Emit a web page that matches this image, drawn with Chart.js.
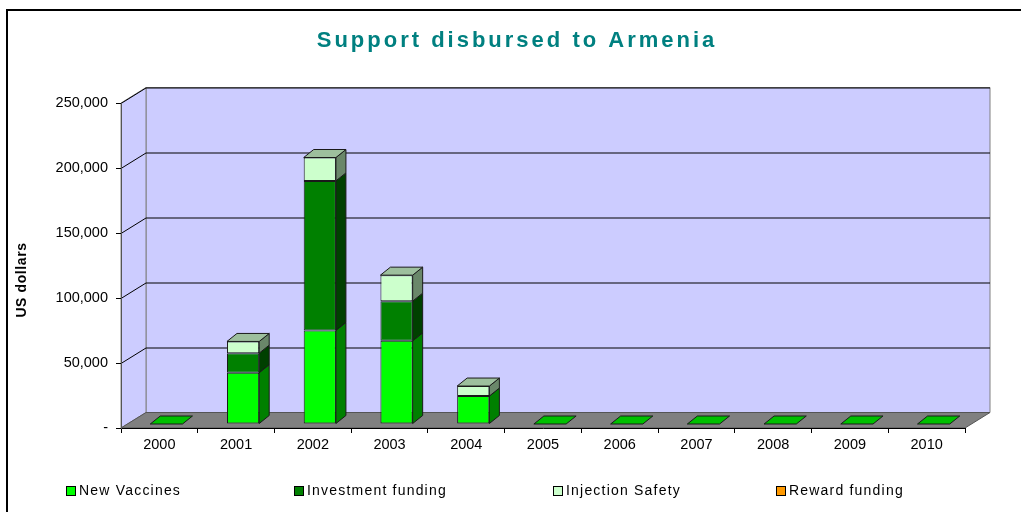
<!DOCTYPE html>
<html>
<head>
<meta charset="utf-8">
<script src="https://cdn.jsdelivr.net/npm/chart.js@4.4.0/dist/chart.umd.min.js"></script>
<style>
  html, body { margin: 0; padding: 0; background: #fff; }
  #wrap { width: 1021px; height: 512px; }
</style>
</head>
<body>
<div id="wrap"><canvas id="chart" width="1021" height="512"></canvas></div>
<script>
const years = ['2000', '2001', '2002', '2003', '2004', '2005', '2006', '2007', '2008', '2009', '2010'];
const newVaccines = [0, 39500, 72000, 64000, 21500, 0, 0, 0, 0, 0, 0];
const investmentFunding = [0, 15000, 115000, 30500, 0, 0, 0, 0, 0, 0, 0];
const injectionSafety = [0, 9000, 18000, 20000, 7700, 0, 0, 0, 0, 0, 0];
const rewardFunding = [0, 0, 0, 0, 0, 0, 0, 0, 0, 0, 0];

const FONT = 'Arial, "Liberation Sans", sans-serif';

// front / side / top colours for each series
const faces = [
  { front: '#00ff00', side: '#008000', top: '#00c000' },
  { front: '#008000', side: '#004000', top: '#006000' },
  { front: '#ccffcc', side: '#6a876a', top: '#9dbf9d' },
  { front: '#ff9900', side: '#a06000', top: '#cc7a00' },
];

// wall depth and bar depth
const WALL = { dx: 25, dy: -15.5 };
const BAR = { dx: 10, dy: -8, shiftX: 7, shiftY: -4 };

const frame3d = {
  id: 'frame3d',
  beforeDraw(chart) {
    const { ctx, chartArea: a } = chart;
    const y = chart.scales.y;
    ctx.save();
    // outer frame
    ctx.strokeStyle = '#000';
    ctx.lineWidth = 2;
    ctx.beginPath();
    ctx.moveTo(7, 512);
    ctx.lineTo(7, 10);
    ctx.lineTo(1021, 10);
    ctx.stroke();

    // title
    ctx.fillStyle = '#008080';
    ctx.font = 'bold 22px ' + FONT;
    ctx.letterSpacing = '3px';
    ctx.textAlign = 'center';
    ctx.textBaseline = 'alphabetic';
    ctx.fillText('Support disbursed to Armenia', 517, 47);

    // y axis title
    ctx.save();
    ctx.translate(22, 280);
    ctx.rotate(-Math.PI / 2);
    ctx.fillStyle = '#000';
    ctx.font = 'bold 14px ' + FONT;
    ctx.letterSpacing = '0.6px';
    ctx.textBaseline = 'middle';
    ctx.fillText('US dollars', 0, 0);
    ctx.restore();

    ctx.lineWidth = 1;
    // back wall
    ctx.fillStyle = '#ccccff';
    ctx.strokeStyle = '#808080';
    ctx.beginPath();
    ctx.rect(a.left + WALL.dx, a.top + WALL.dy, a.right - a.left, a.bottom - a.top);
    ctx.fill();
    ctx.stroke();
    // left wall
    ctx.beginPath();
    ctx.moveTo(a.left, a.top);
    ctx.lineTo(a.left + WALL.dx, a.top + WALL.dy);
    ctx.lineTo(a.left + WALL.dx, a.bottom + WALL.dy);
    ctx.lineTo(a.left, a.bottom);
    ctx.closePath();
    ctx.fill();
    ctx.stroke();
    // gridlines on walls
    ctx.strokeStyle = '#000';
    y.ticks.forEach(t => {
      if (t.value === 0) return;
      const py = Math.round(y.getPixelForValue(t.value)) + 0.5;
      ctx.beginPath();
      ctx.moveTo(a.left, py);
      ctx.lineTo(a.left + WALL.dx, py + WALL.dy);
      ctx.lineTo(a.right + WALL.dx, py + WALL.dy);
      ctx.stroke();
    });
    // floor
    ctx.fillStyle = '#808080';
    ctx.strokeStyle = '#555';
    ctx.beginPath();
    ctx.moveTo(a.left, a.bottom);
    ctx.lineTo(a.right, a.bottom);
    ctx.lineTo(a.right + WALL.dx, a.bottom + WALL.dy);
    ctx.lineTo(a.left + WALL.dx, a.bottom + WALL.dy);
    ctx.closePath();
    ctx.fill();
    ctx.stroke();

    // legend
    ctx.font = '14px ' + FONT;
    ctx.letterSpacing = '1.2px';
    ctx.textAlign = 'left';
    ctx.textBaseline = 'middle';
    const legendX = [66, 294, 553, 776];
    chart.data.datasets.forEach((ds, i) => {
      const x = legendX[i];
      ctx.fillStyle = faces[i].front;
      ctx.fillRect(x + 0.5, 486.5, 9, 9);
      ctx.strokeStyle = '#000';
      ctx.strokeRect(x + 0.5, 486.5, 9, 9);
      ctx.fillStyle = '#000';
      ctx.fillText(ds.label, x + 13, 491);
    });
    ctx.letterSpacing = '0px';
    ctx.restore();
  },
  beforeDatasetsDraw(chart) {
    chart.ctx.save();
    chart.ctx.translate(BAR.shiftX, BAR.shiftY);
  },
  afterDatasetsDraw(chart) {
    const ctx = chart.ctx;
    const n = chart.data.labels.length;
    const zeroY = chart.scales.y.getPixelForValue(0);
    ctx.lineWidth = 1;
    ctx.strokeStyle = '#1a1a1a';
    const poly = (pts, fill) => {
      ctx.beginPath();
      ctx.moveTo(pts[0][0], pts[0][1]);
      for (let k = 1; k < pts.length; k++) ctx.lineTo(pts[k][0], pts[k][1]);
      ctx.closePath();
      ctx.fillStyle = fill;
      ctx.fill();
      ctx.stroke();
    };
    for (let j = 0; j < n; j++) {
      let topIdx = -1;
      let topEl = null;
      chart.data.datasets.forEach((ds, i) => {
        const el = chart.getDatasetMeta(i).data[j];
        if (!ds.data[j]) return;
        const { x, y, base, width } = el.getProps(['x', 'y', 'base', 'width'], true);
        const r = x + width / 2;
        poly([[r, y], [r + BAR.dx, y + BAR.dy], [r + BAR.dx, base + BAR.dy], [r, base]], faces[i].side);
        topIdx = i;
        topEl = { x, y, width };
      });
      let x, yTop, w, color;
      if (topEl) {
        x = topEl.x; yTop = topEl.y; w = topEl.width; color = faces[topIdx].top;
      } else {
        const el = chart.getDatasetMeta(0).data[j];
        const p = el.getProps(['x', 'width'], true);
        x = p.x; yTop = zeroY; w = p.width; color = faces[0].top;
      }
      const l = x - w / 2, r = x + w / 2;
      poly([[l, yTop], [r, yTop], [r + BAR.dx, yTop + BAR.dy], [l + BAR.dx, yTop + BAR.dy]], color);
    }
    ctx.restore();
  }
};

const mkSet = (label, data, i) => ({
  label,
  data,
  backgroundColor: faces[i].front,
  borderColor: '#1a1a1a',
  borderWidth: 1,
  borderSkipped: false,
  barPercentage: 0.42,
  categoryPercentage: 1,
});

new Chart(document.getElementById('chart'), {
  type: 'bar',
  data: {
    labels: years,
    datasets: [
      mkSet('New Vaccines', newVaccines, 0),
      mkSet('Investment funding', investmentFunding, 1),
      mkSet('Injection Safety', injectionSafety, 2),
      mkSet('Reward funding', rewardFunding, 3),
    ],
  },
  options: {
    responsive: false,
    animation: false,
    devicePixelRatio: 1,
    layout: { padding: { left: 0, top: 103, right: 56, bottom: 54 } },
    plugins: {
      legend: { display: false },
      title: { display: false },
      tooltip: { enabled: false },
    },
    scales: {
      x: {
        stacked: true,
        afterFit: s => { s.height = 30; },
        border: { color: '#000', width: 1 },
        grid: { drawOnChartArea: false, drawTicks: true, tickLength: 5, color: '#000' },
        ticks: { color: '#000', font: { family: FONT, size: 14.5 }, padding: 3, maxRotation: 0 },
      },
      y: {
        stacked: true,
        min: 0,
        max: 250000,
        afterFit: s => { s.width = 121; },
        border: { color: '#555', width: 1 },
        grid: { drawOnChartArea: false, drawTicks: true, tickLength: 5, color: '#000' },
        ticks: {
          stepSize: 50000,
          color: '#000',
          font: { family: FONT, size: 14.5 },
          padding: 8,
          callback: v => (v === 0 ? '-' : v.toLocaleString('en-US')),
        },
      },
    },
  },
  plugins: [frame3d],
});
</script>
</body>
</html>
